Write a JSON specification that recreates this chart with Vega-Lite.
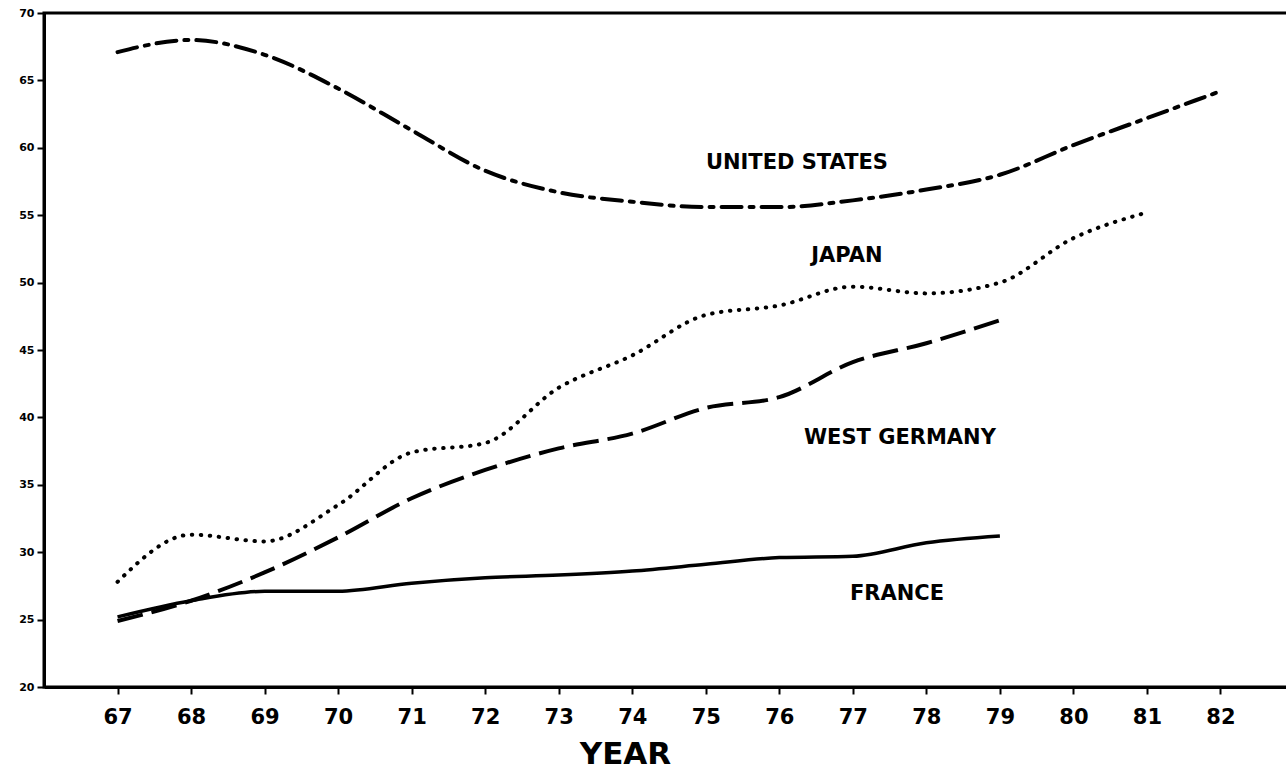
{
  "$schema": "https://vega.github.io/schema/vega-lite/v6.json",
  "width": 1250,
  "height": 674,
  "autosize": "none",
  "padding": {"left": 44, "top": 13, "right": 0, "bottom": 84},
  "background": "white",
  "config": {
    "view": {"stroke": "black", "strokeWidth": 3},
    "font": "DejaVu Sans"
  },
  "datasets": {
    "series": [
      {"country": "US", "year": 67, "value": 67.1},
      {"country": "US", "year": 68, "value": 68.0},
      {"country": "US", "year": 69, "value": 66.9},
      {"country": "US", "year": 70, "value": 64.4},
      {"country": "US", "year": 71, "value": 61.3},
      {"country": "US", "year": 72, "value": 58.3},
      {"country": "US", "year": 73, "value": 56.7},
      {"country": "US", "year": 74, "value": 56.0},
      {"country": "US", "year": 75, "value": 55.6},
      {"country": "US", "year": 76, "value": 55.6},
      {"country": "US", "year": 77, "value": 56.1},
      {"country": "US", "year": 78, "value": 56.9},
      {"country": "US", "year": 79, "value": 58.0},
      {"country": "US", "year": 80, "value": 60.2},
      {"country": "US", "year": 81, "value": 62.2},
      {"country": "US", "year": 82, "value": 64.2},
      {"country": "Japan", "year": 67, "value": 27.8},
      {"country": "Japan", "year": 68, "value": 31.3},
      {"country": "Japan", "year": 69, "value": 30.8},
      {"country": "Japan", "year": 70, "value": 33.5},
      {"country": "Japan", "year": 71, "value": 37.4},
      {"country": "Japan", "year": 72, "value": 38.1},
      {"country": "Japan", "year": 73, "value": 42.2},
      {"country": "Japan", "year": 74, "value": 44.6},
      {"country": "Japan", "year": 75, "value": 47.6},
      {"country": "Japan", "year": 76, "value": 48.3},
      {"country": "Japan", "year": 77, "value": 49.7},
      {"country": "Japan", "year": 78, "value": 49.2},
      {"country": "Japan", "year": 79, "value": 50.0},
      {"country": "Japan", "year": 80, "value": 53.3},
      {"country": "Japan", "year": 81, "value": 55.2},
      {"country": "WG", "year": 67, "value": 24.9},
      {"country": "WG", "year": 68, "value": 26.4},
      {"country": "WG", "year": 69, "value": 28.5},
      {"country": "WG", "year": 70, "value": 31.1},
      {"country": "WG", "year": 71, "value": 34.0},
      {"country": "WG", "year": 72, "value": 36.1},
      {"country": "WG", "year": 73, "value": 37.7},
      {"country": "WG", "year": 74, "value": 38.8},
      {"country": "WG", "year": 75, "value": 40.7},
      {"country": "WG", "year": 76, "value": 41.5},
      {"country": "WG", "year": 77, "value": 44.1},
      {"country": "WG", "year": 78, "value": 45.5},
      {"country": "WG", "year": 79, "value": 47.2},
      {"country": "France", "year": 67, "value": 25.2},
      {"country": "France", "year": 68, "value": 26.4},
      {"country": "France", "year": 69, "value": 27.1},
      {"country": "France", "year": 70, "value": 27.1},
      {"country": "France", "year": 71, "value": 27.7},
      {"country": "France", "year": 72, "value": 28.1},
      {"country": "France", "year": 73, "value": 28.3},
      {"country": "France", "year": 74, "value": 28.6},
      {"country": "France", "year": 75, "value": 29.1},
      {"country": "France", "year": 76, "value": 29.6},
      {"country": "France", "year": 77, "value": 29.7},
      {"country": "France", "year": 78, "value": 30.7},
      {"country": "France", "year": 79, "value": 31.2}
    ],
    "labels": [
      {"label": "UNITED  STATES", "year": 76.24, "value": 58.9},
      {"label": "JAPAN", "year": 76.92, "value": 52.0},
      {"label": "WEST  GERMANY", "year": 77.64, "value": 38.5},
      {"label": "FRANCE", "year": 77.6, "value": 26.9}
    ]
  },
  "encoding": {
    "x": {
      "field": "year", "type": "quantitative",
      "scale": {"domain": [66, 83], "nice": false, "zero": false},
      "axis": {
        "values": [67,68,69,70,71,72,73,74,75,76,77,78,79,80,81,82],
        "format": "d", "title": "YEAR", "grid": false,
        "domainColor": "black", "domainWidth": 3,
        "tickColor": "black", "tickWidth": 2, "tickSize": 7,
        "labelFont": "DejaVu Sans", "labelFontWeight": "bold", "labelFontSize": 21, "labelColor": "black",
        "labelPadding": 12,
        "titleFont": "DejaVu Sans", "titleFontWeight": "bold", "titleFontSize": 31, "titleColor": "black",
        "titleX": 581, "titleY": 67, "titleAlign": "center", "titleBaseline": "middle"
      }
    },
    "y": {
      "field": "value", "type": "quantitative",
      "scale": {"domain": [20, 70], "nice": false, "zero": false},
      "axis": {
        "values": [20,25,30,35,40,45,50,55,60,65,70],
        "title": null, "grid": false,
        "domainColor": "black", "domainWidth": 3,
        "tickColor": "black", "tickWidth": 2, "tickSize": 7,
        "labelFont": "DejaVu Sans", "labelFontWeight": "bold", "labelFontSize": 11, "labelColor": "black",
        "labelPadding": 3
      }
    }
  },
  "layer": [
    {
      "data": {"name": "series"},
      "transform": [{"filter": "datum.country === 'US'"}],
      "mark": {"type": "line", "interpolate": "monotone", "color": "black", "strokeWidth": 4, "strokeDash": [20, 8, 4, 8], "strokeCap": "round"}
    },
    {
      "data": {"name": "series"},
      "transform": [{"filter": "datum.country === 'Japan'"}],
      "mark": {"type": "line", "interpolate": "monotone", "color": "black", "strokeWidth": 4, "strokeDash": [0.5, 8.5], "strokeCap": "round"}
    },
    {
      "data": {"name": "series"},
      "transform": [{"filter": "datum.country === 'WG'"}],
      "mark": {"type": "line", "interpolate": "monotone", "color": "black", "strokeWidth": 4, "strokeDash": [26, 9]}
    },
    {
      "data": {"name": "series"},
      "transform": [{"filter": "datum.country === 'France'"}],
      "mark": {"type": "line", "interpolate": "monotone", "color": "black", "strokeWidth": 3.5}
    },
    {
      "data": {"name": "labels"},
      "mark": {"type": "text", "font": "DejaVu Sans", "fontWeight": "bold", "fontSize": 21, "color": "black", "align": "center", "baseline": "middle"},
      "encoding": {"text": {"field": "label"}}
    }
  ]
}
